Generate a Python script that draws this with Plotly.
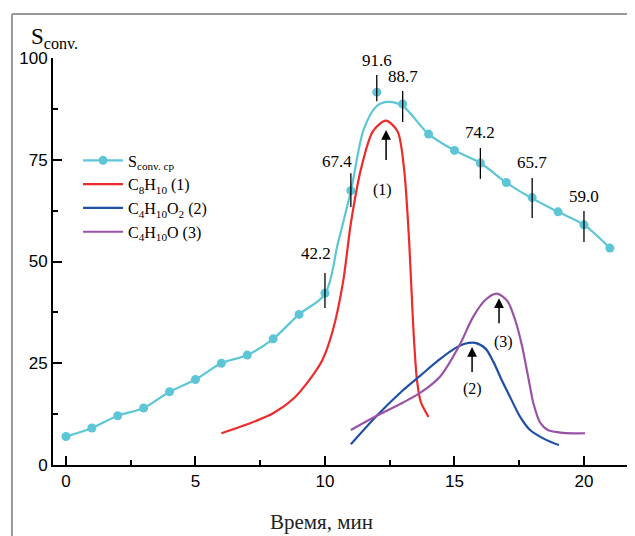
import plotly.graph_objects as go

# ---- data ----
time_pts = list(range(0, 22))
s_conv = [7.0, 9.1, 12.1, 14.0, 18.0, 21.0, 25.0, 27.0, 31.0, 37.0, 42.2, 67.4,
          91.6, 88.7, 81.3, 77.3, 74.2, 69.4, 65.7, 62.2, 59.0, 53.3]

fit_x = [0, 1, 2, 3, 4, 5, 6, 7, 8, 9, 10, 10.5, 11, 11.5, 12.0, 12.45, 13,
         14, 15, 16, 17, 18, 19, 20, 21]
fit_y = [7.0, 9.1, 12.1, 14.0, 18.0, 21.0, 25.0, 27.0, 31.0, 37.0, 42.0, 54.5, 67.3,
         82.5, 88.2, 89.2, 88.2, 81.3, 77.3, 74.2, 69.4, 65.5, 62.2, 59.0, 53.3]

c8h10_x = [6.0, 7.0, 8.0, 8.8, 9.4, 9.9, 10.3, 10.7, 11.0, 11.4, 11.85, 12.35, 12.8,
           13.05, 13.25, 13.4, 13.55, 13.7, 14.0]
c8h10_y = [7.8, 10.0, 12.7, 16.4, 20.9, 25.8, 33.0, 45.0, 59.4, 73.0, 82.0, 84.6, 82.0,
           73.0, 55.0, 35.0, 21.0, 15.5, 11.8]

c4h10o2_x = [11.0, 12.0, 13.0, 13.67, 14.4, 15.0, 15.4, 15.8, 16.2, 16.5, 16.8, 17.14,
             17.53, 17.92, 18.5, 19.03]
c4h10o2_y = [5.1, 12.1, 18.3, 21.9, 25.8, 28.6, 29.8, 30.0, 28.6, 25.4, 21.2, 16.8,
             11.9, 8.6, 6.3, 4.9]

c4h10o_x = [11.0, 12.0, 13.0, 13.67, 14.44, 15.2, 15.72, 16.2, 16.64, 17.05, 17.35,
            17.6, 17.85, 18.05, 18.3, 18.6, 19.2, 20.04]
c4h10o_y = [8.6, 12.1, 15.3, 17.7, 21.7, 29.5, 36.4, 40.6, 42.1, 40.2, 35.5, 29.5,
            21.5, 15.1, 10.5, 8.6, 7.9, 7.8]

lab_x = [10, 11, 12, 13, 16, 18, 20]
lab_val = ["42.2", "67.4", "91.6", "88.7", "74.2", "65.7", "59.0"]
bar_lo = [38.6, 63.4, 89.4, 84.3, 70.3, 60.7, 54.8]
bar_hi = [47.2, 71.7, 95.8, 91.9, 77.9, 70.5, 62.4]

peak_labels = ["(1)", "(2)", "(3)"]
peak_x = [12.36, 15.68, 16.72]
peak_tip = [82.3, 29.0, 41.0]

x_ticks = [0, 5, 10, 15, 20]
y_ticks = [0, 25, 50, 75, 100]

# ---- style ----
CYAN = "#5cc6d6"
RED = "#ee2b2b"
BLUE = "#1f4fa3"
PURPLE = "#9a52a8"
SERIF = "Liberation Serif"
SANS = "Liberation Sans"

fig = go.Figure()

fig.add_trace(go.Scatter(x=fit_x, y=fit_y, mode="lines",
                         line=dict(color=CYAN, width=2.2, shape="spline", smoothing=0.9),
                         showlegend=False, hoverinfo="skip", cliponaxis=False))
fig.add_trace(go.Scatter(x=time_pts, y=s_conv, mode="markers",
                         marker=dict(color=CYAN, size=9), showlegend=False, cliponaxis=False))
# legend entry for the S_conv series (line + marker symbol)
fig.add_trace(go.Scatter(x=[None], y=[None], mode="lines+markers",
                         line=dict(color=CYAN, width=2.2), marker=dict(color=CYAN, size=9),
                         name="S<sub>conv. cp</sub>"))

fig.add_trace(go.Scatter(x=c8h10_x, y=c8h10_y, mode="lines",
                         line=dict(color=RED, width=2.2, shape="spline", smoothing=0.8),
                         name="C<sub>8</sub>H<sub>10</sub> (1)"))
fig.add_trace(go.Scatter(x=c4h10o2_x, y=c4h10o2_y, mode="lines",
                         line=dict(color=BLUE, width=2.2, shape="spline", smoothing=0.8),
                         name="C<sub>4</sub>H<sub>10</sub>O<sub>2</sub> (2)"))
fig.add_trace(go.Scatter(x=c4h10o_x, y=c4h10o_y, mode="lines",
                         line=dict(color=PURPLE, width=2.2, shape="spline", smoothing=0.8),
                         name="C<sub>4</sub>H<sub>10</sub>O (3)"))

# vertical bars
bx, by = [], []
for x, lo, hi in zip(lab_x, bar_lo, bar_hi):
    bx += [x, x, None]
    by += [lo, hi, None]
fig.add_trace(go.Scatter(x=bx, y=by, mode="lines", line=dict(color="black", width=1.3),
                         showlegend=False, hoverinfo="skip", cliponaxis=False))

annotations = []
shifts = [(-9, 8), (-14, 0), (0, 3), (0, 3), (0, 4), (0, 4), (0, 3)]
for x, v, hi, (dx, dy) in zip(lab_x, lab_val, bar_hi, shifts):
    annotations.append(dict(x=x, y=hi, text=v, showarrow=False, xanchor="center", yanchor="bottom",
                            xshift=dx, yshift=dy, font=dict(family=SERIF, size=17, color="black")))

lab_offsets = [(-4, -60), (0, -42), (4, -44)]
for lab, x, tip, (dx, dy) in zip(peak_labels, peak_x, peak_tip, lab_offsets):
    annotations.append(dict(x=x, y=tip, ax=0, ay=33 if lab == "(1)" else 28, text=" ", showarrow=True,
                            arrowhead=2, arrowsize=1.3, arrowwidth=1.5, arrowcolor="black",
                            font=dict(size=2),
                            xref="x", yref="y", axref="pixel", ayref="pixel"))
    annotations.append(dict(x=x, y=tip, text=lab, showarrow=False, xshift=dx, yshift=dy,
                            font=dict(family=SERIF, size=16, color="black")))

annotations.append(dict(xref="paper", yref="paper", x=-0.041, y=1.05, xanchor="left", yanchor="middle",
                        text="S<sub>conv.</sub>", showarrow=False,
                        font=dict(family=SERIF, size=23, color="black")))
annotations.append(dict(xref="paper", yref="paper", x=0.462, y=-0.14, xanchor="center", yanchor="middle",
                        text="Время, мин", showarrow=False,
                        font=dict(family=SERIF, size=21, color="#222")))

shapes = [
    dict(type="line", xref="paper", yref="paper", x0=-0.0705, x1=-0.0705, y0=-0.3, y1=1.108,
         line=dict(color="#999", width=2)),
    dict(type="line", xref="paper", yref="paper", x0=-0.0705, x1=1.1, y0=1.108, y1=1.108,
         line=dict(color="#999", width=2)),
]

# the page body adds an 8px offset, so the figure is sized 8px smaller
fig.update_layout(
    width=627, height=528,
    margin=dict(l=45, r=0, t=50, b=71, autoexpand=False),
    plot_bgcolor="white", paper_bgcolor="white",
    annotations=annotations, shapes=shapes,
    legend=dict(x=0.043, y=0.79, xanchor="left", yanchor="top", bgcolor="rgba(0,0,0,0)",
                font=dict(family=SERIF, size=16, color="black"), tracegroupgap=0, itemwidth=40),
    xaxis=dict(range=[-0.5, 21.97], tickvals=x_ticks, showgrid=False, zeroline=False, automargin=False,
               showline=True, linecolor="black", linewidth=2, ticks="inside", ticklen=9, tickwidth=1.5,
               tickcolor="black", minor=dict(dtick=2.5, ticks="inside", ticklen=5, tickwidth=1.5, tickcolor="black"),
               tickfont=dict(family=SANS, size=17, color="black")),
    yaxis=dict(range=[0, 100], tickvals=y_ticks, showgrid=False, zeroline=False, automargin=False,
               showline=True, linecolor="black", linewidth=2, ticks="inside", ticklen=9, tickwidth=1.5,
               tickcolor="black", minor=dict(dtick=12.5, ticks="inside", ticklen=5, tickwidth=1.5, tickcolor="black"),
               tickfont=dict(family=SANS, size=17, color="black")),
)

fig.write_html("out.html")
